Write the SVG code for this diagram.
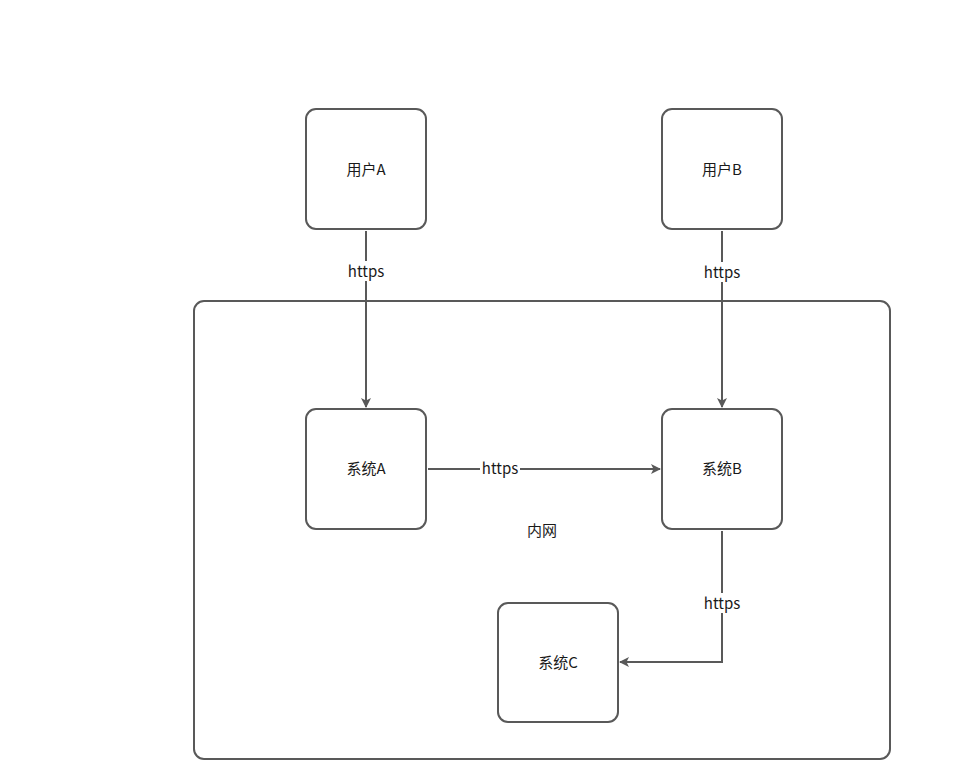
<svg xmlns="http://www.w3.org/2000/svg" width="978" height="784" viewBox="0 0 978 784">
<style>
.box{fill:#fff;stroke:#595959;stroke-width:2}
.t{font-family:"Microsoft YaHei","Noto Sans CJK SC",sans-serif;font-size:15px;fill:#1a1a1a;text-anchor:middle;dominant-baseline:central}
.edge{fill:none;stroke:#595959;stroke-width:2}
.lbl{fill:#fff}
</style>
<defs>
<marker id="arr" markerWidth="10" markerHeight="10" refX="9" refY="5" orient="auto" markerUnits="userSpaceOnUse">
<path d="M0,0 L10,5 L0,10 L2.5,5 Z" fill="#595959"/>
</marker>
</defs>
<rect width="978" height="784" fill="#fff"/>
<g id="intranet">
<rect class="box" x="194" y="301" width="696" height="458" rx="10"/>
<text class="t" x="542" y="529">内网</text>
</g>
<g id="userA"><rect class="box" x="306" y="109" width="120" height="120" rx="10"/><text class="t" x="366" y="168">用户A</text></g>
<g id="userB"><rect class="box" x="662" y="109" width="120" height="120" rx="10"/><text class="t" x="722" y="168">用户B</text></g>
<g id="sysA"><rect class="box" x="306" y="409" width="120" height="120" rx="10"/><text class="t" x="366" y="467">系统A</text></g>
<g id="sysB"><rect class="box" x="662" y="409" width="120" height="120" rx="10"/><text class="t" x="722" y="467">系统B</text></g>
<g id="sysC"><rect class="box" x="498" y="603" width="120" height="119" rx="10"/><text class="t" x="558" y="661">系统C</text></g>
<g id="connectors">
<path class="edge" d="M366,231 L366,407" marker-end="url(#arr)"/>
<rect class="lbl" x="346" y="261" width="40" height="20"/>
<text class="t" x="366" y="270.5">https</text>
<path class="edge" d="M722,231 L722,407" marker-end="url(#arr)"/>
<rect class="lbl" x="702" y="262" width="40" height="20"/>
<text class="t" x="722" y="271.5">https</text>
<path class="edge" d="M428,469 L660,469" marker-end="url(#arr)"/>
<rect class="lbl" x="480" y="459" width="40" height="20"/>
<text class="t" x="500" y="467.5">https</text>
<path class="edge" d="M722,531 L722,662 L620,662" marker-end="url(#arr)"/>
<rect class="lbl" x="702" y="593" width="40" height="20"/>
<text class="t" x="722" y="602.5">https</text>
</g>
</svg>
